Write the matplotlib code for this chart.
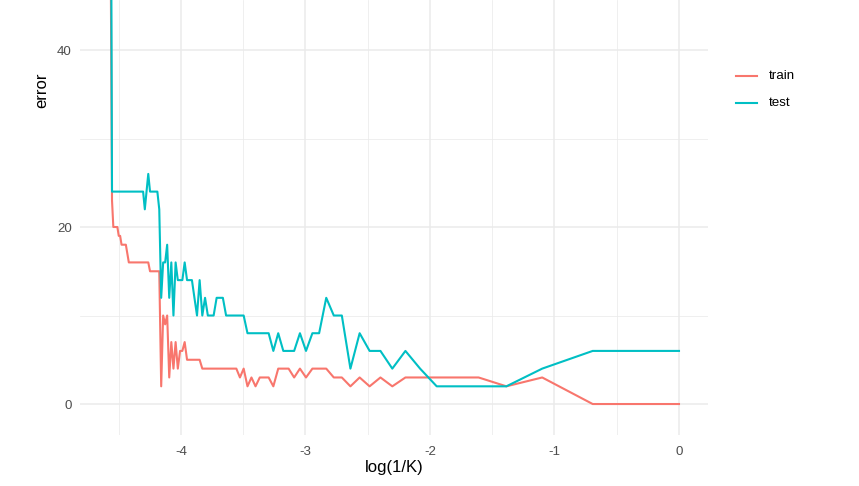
import numpy as np
import matplotlib
matplotlib.use("Agg")
import matplotlib.pyplot as plt

# neighbours K = 1..96
k_values = list(range(1, 97))

# training error for each K
train_error = [0, 0, 3, 2, 3, 3, 3, 3, 3, 2,
               3, 2, 3, 2, 3, 3, 4, 4, 4, 3,
               4, 3, 4, 4, 4, 2, 3, 3, 3, 2,
               3, 2, 4, 3, 4, 4, 4, 4, 4, 4,
               4, 4, 4, 4, 4, 4, 5, 5, 5, 5,
               5, 5, 7, 6, 6, 4, 7, 4, 7, 3,
               10, 9, 10, 2, 15, 15, 15, 15, 15, 15,
               16, 16, 16, 16, 16, 16, 16, 16, 16, 16,
               16, 16, 16, 17, 18, 18, 18, 18, 19, 19,
               20, 20, 20, 20, 23, 50]

# test error for each K
test_error = [6, 6, 4, 2, 2, 2, 2, 4, 6, 4,
              6, 6, 8, 4, 10, 10, 12, 8, 8, 6,
              8, 6, 6, 6, 8, 6, 8, 8, 8, 8,
              8, 8, 10, 10, 10, 10, 10, 10, 12, 12,
              12, 10, 10, 10, 12, 10, 14, 10, 12, 14,
              14, 14, 16, 14, 14, 14, 16, 10, 16, 12,
              18, 16, 16, 12, 22, 24, 24, 24, 24, 24,
              26, 24, 22, 24, 24, 24, 24, 24, 24, 24,
              24, 24, 24, 24, 24, 24, 24, 24, 24, 24,
              24, 24, 24, 24, 24, 70]

x_ticks = [-4, -3, -2, -1, 0]
y_ticks = [0, 20, 40]

plt.rcParams['font.family'] = ['Liberation Sans', 'DejaVu Sans']
plt.rcParams['axes.unicode_minus'] = False

W, H = 859, 486
fig = plt.figure(figsize=(W / 100, H / 100), dpi=100)
ax = fig.add_axes([80 / W, (H - 435) / H, (708 - 80) / W, 435 / H])

x = -np.log(np.array(k_values))
ax.plot(x, train_error, color='#F8766D', lw=1.5, label='train', zorder=3)
ax.plot(x, test_error, color='#00BFC4', lw=1.5, label='test', zorder=4)

ax.set_xlim(-4.811, 0.233)
ax.set_ylim(-3.5, 45.65)

# ggplot minimal look
ax.set_xticks(x_ticks)
ax.set_yticks(y_ticks)
ax.set_xticks(np.arange(-4.5, 0, 1.0), minor=True)
ax.set_yticks([10, 30], minor=True)
ax.grid(which='major', color='#EBEBEB', lw=1.1)
ax.grid(which='minor', color='#EBEBEB', lw=0.55)
ax.set_axisbelow(True)
for s in ax.spines.values():
    s.set_visible(False)
ax.tick_params(which='both', length=0, labelsize=9.6, colors='#4D4D4D')
ax.tick_params(axis='x', pad=8)
ax.tick_params(axis='y', pad=6)

fig.text(394 / W, 1 - 467 / H, 'log(1/K)', ha='center', va='center',
         fontsize=12, color='black')
fig.text(42 / W, 1 - 90 / H, 'error', ha='center', va='center',
         rotation=90, fontsize=12, color='black')

# legend by hand
for i, (lab, col) in enumerate([('train', '#F8766D'), ('test', '#00BFC4')]):
    yy = 1 - (76 + 27 * i) / H
    fig.add_artist(plt.Line2D([736 / W, 757 / W], [yy, yy], color=col, lw=1.5))
    fig.text(769 / W, yy, lab, ha='left', va='center', fontsize=9.6, color='black')

fig.savefig('out.png', dpi=100)
